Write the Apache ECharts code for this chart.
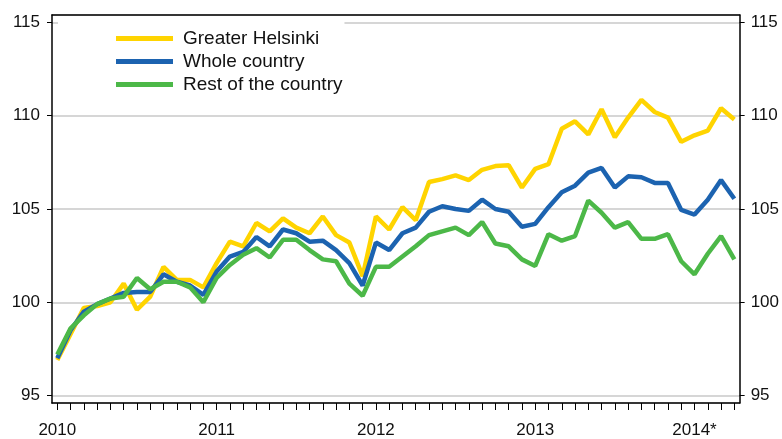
<!DOCTYPE html>
<html>
<head>
<meta charset="utf-8">
<script src="https://cdn.jsdelivr.net/npm/echarts@6/dist/echarts.min.js"></script>
<style>
  html, body { margin: 0; padding: 0; background: #fff; }
  #chart { width: 782px; height: 439px; }
</style>
</head>
<body>
<div id="chart"></div>
<script>
// months Jan 2010 .. Apr 2014
var months = []
for (var y = 2010; y <= 2014; y++) {
  for (var m = 1; m <= 12; m++) {
    if (y === 2014 && m > 4) break
    months.push(y + 'M' + (m < 10 ? '0' + m : m))
  }
}
var yearLabels = ['2010', '2011', '2012', '2013', '2014*']
var seriesNames = ['Greater Helsinki', 'Whole country', 'Rest of the country']
var seriesColors = ['#ffd400', '#1c63b0', '#4cb848']

var helsinki = [
  96.9, 98.3, 99.7, 99.8, 100.0, 101.0, 99.6, 100.3, 101.9, 101.2, 101.2, 100.8,
  102.1, 103.25, 103.0, 104.25, 103.8, 104.5, 104.0, 103.7, 104.6, 103.6, 103.2, 101.4,
  104.6, 103.9, 105.1, 104.4, 106.45, 106.6, 106.8, 106.55, 107.1, 107.3, 107.35, 106.15,
  107.15, 107.4, 109.3, 109.7, 109.0, 110.35, 108.85, 109.9, 110.85, 110.2, 109.9, 108.6,
  108.95, 109.2, 110.4, 109.8
]
var wholeCountry = [
  97.0, 98.5, 99.5, 99.9, 100.2, 100.5, 100.55, 100.55, 101.5, 101.1, 100.9, 100.4,
  101.65, 102.45, 102.7, 103.5, 103.0, 103.9, 103.7, 103.25, 103.3, 102.8, 102.1, 100.9,
  103.2, 102.8, 103.7, 104.0, 104.85, 105.15, 105.0, 104.9, 105.5, 105.0, 104.85, 104.05,
  104.2, 105.1, 105.9, 106.25, 106.95, 107.2, 106.15, 106.75, 106.7, 106.4, 106.4, 104.95,
  104.7, 105.5, 106.55, 105.55
]
var restOfCountry = [
  97.2, 98.6, 99.3, 99.9, 100.2, 100.3, 101.3, 100.7, 101.1, 101.1, 100.8, 100.0,
  101.3, 102.0, 102.55, 102.9, 102.4, 103.35, 103.35, 102.8, 102.3, 102.2, 101.0, 100.35,
  101.9, 101.9, 102.45, 103.0, 103.6, 103.8, 104.0, 103.6, 104.3, 103.15, 103.0, 102.3,
  101.95, 103.65, 103.3, 103.55, 105.45, 104.8, 104.0, 104.3, 103.4, 103.4, 103.65, 102.2,
  101.5, 102.6, 103.55, 102.3
]

var font = 'Liberation Sans, Arial, sans-serif'
var tickIdx = months.map(function (d, i) { return i })
var yearIdx = months.map(function (d, i) { return i }).filter(function (i) { return months[i].slice(5) === '01' })

function pairs(arr) {
  return arr.map(function (v, i) { return [i, v] })
}

var yAxisBase = {
  type: 'value',
  min: 94.6,
  max: 115.4,
  splitNumber: 4,
  axisLine: { show: true, onZero: false, lineStyle: { color: '#000', width: 1.5 } },
  axisTick: { show: true, length: 5, lineStyle: { color: '#000' } },
  axisLabel: { color: '#111', fontSize: 17, fontFamily: font, showMinLabel: false, showMaxLabel: false }
}

var chart = echarts.init(document.getElementById('chart'))
chart.setOption({
  animation: false,
  backgroundColor: '#fff',
  grid: { left: 52, right: 40, top: 15, bottom: 35 },
  legend: {
    orient: 'vertical',
    left: 58,
    top: 16,
    padding: [13, 2, 6, 58],
    backgroundColor: '#fff',
    icon: 'rect',
    itemWidth: 57,
    itemHeight: 5,
    itemGap: 4,
    data: seriesNames,
    textStyle: { fontSize: 19, color: '#111', fontFamily: font, padding: [0, 0, 0, 5] }
  },
  xAxis: [{
    type: 'value',
    min: -0.4,
    max: months.length - 0.6,
    axisLine: { show: true, onZero: false, lineStyle: { color: '#000', width: 1.5 } },
    axisTick: { show: true, length: 7, customValues: tickIdx, lineStyle: { color: '#000' } },
    axisLabel: {
      customValues: yearIdx,
      margin: 19,
      color: '#111',
      fontSize: 17,
      fontFamily: font,
      formatter: function (v) { return yearLabels[Math.round(v) / 12] }
    },
    splitLine: { show: false }
  }, {
    type: 'value',
    position: 'top',
    min: -0.4,
    max: months.length - 0.6,
    axisLine: { show: true, onZero: false, lineStyle: { color: '#000', width: 1.5 } },
    axisTick: { show: false },
    axisLabel: { show: false },
    splitLine: { show: false }
  }],
  yAxis: [
    Object.assign({}, yAxisBase, {
      position: 'left',
      splitLine: { show: true, lineStyle: { color: '#c8c8c8', width: 1.5 } },
      axisLabel: Object.assign({}, yAxisBase.axisLabel, { margin: 12 })
    }),
    Object.assign({}, yAxisBase, {
      position: 'right',
      splitLine: { show: false },
      axisLabel: Object.assign({}, yAxisBase.axisLabel, { margin: 11 })
    })
  ],
  series: [helsinki, wholeCountry, restOfCountry].map(function (arr, k) {
    return {
      name: seriesNames[k],
      type: 'line',
      data: pairs(arr),
      showSymbol: false,
      symbol: 'none',
      color: seriesColors[k],
      lineStyle: { width: 4.5, color: seriesColors[k] },
      z: 2 + k
    }
  })
})
</script>
</body>
</html>
